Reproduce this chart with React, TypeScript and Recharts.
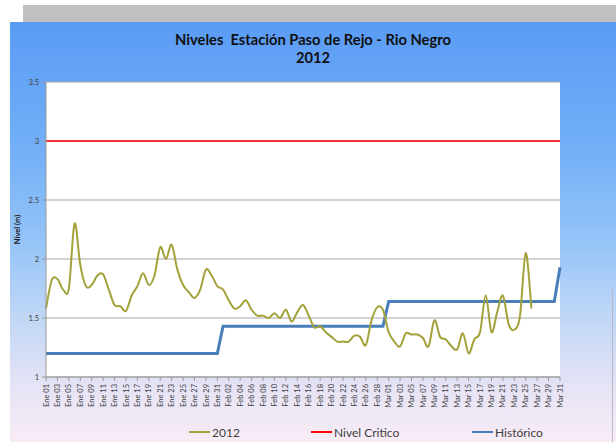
import React from 'react';
import { LineChart, Line, XAxis, YAxis, CartesianGrid, ReferenceLine, Legend } from 'recharts';

const monthNames = ['Ene', 'Feb', 'Mar'];
const monthDays = [31, 29, 31];
const categories: string[] = [];
monthNames.forEach((m, k) => {
  for (let d = 1; d <= monthDays[k]; d++) categories.push(`${m} ${String(d).padStart(2, '0')}`);
});

const yTicks = [1, 1.5, 2, 2.5, 3, 3.5];
const nivelCritico = 3;

const serie2012: (number | null)[] = [
  1.58, 1.82, 1.83, 1.74, 1.75, 2.30, 1.95, 1.77, 1.78, 1.86,
  1.87, 1.74, 1.61, 1.60, 1.56, 1.69, 1.77, 1.88, 1.78, 1.86,
  2.10, 2.00, 2.12, 1.91, 1.78, 1.72, 1.67, 1.74, 1.91, 1.86,
  1.77, 1.74, 1.65, 1.58, 1.60, 1.65, 1.57, 1.52, 1.52, 1.50,
  1.54, 1.50, 1.57, 1.47, 1.55, 1.61, 1.52, 1.42, 1.43, 1.38,
  1.34, 1.30, 1.30, 1.30, 1.35, 1.34, 1.27, 1.48, 1.59, 1.57,
  1.38, 1.30, 1.26, 1.37, 1.36, 1.36, 1.33, 1.26, 1.48, 1.34,
  1.32, 1.26, 1.235, 1.37, 1.20, 1.32, 1.38, 1.69, 1.38, 1.55,
  1.69, 1.45, 1.40, 1.52, 2.05, 1.58, null, null, null, null,
  null,
];

const historico: number[] = [
  1.2, 1.2, 1.2, 1.2, 1.2, 1.2, 1.2, 1.2, 1.2, 1.2,
  1.2, 1.2, 1.2, 1.2, 1.2, 1.2, 1.2, 1.2, 1.2, 1.2,
  1.2, 1.2, 1.2, 1.2, 1.2, 1.2, 1.2, 1.2, 1.2, 1.2,
  1.2,
  1.43, 1.43, 1.43, 1.43, 1.43, 1.43, 1.43, 1.43, 1.43, 1.43,
  1.43, 1.43, 1.43, 1.43, 1.43, 1.43, 1.43, 1.43, 1.43, 1.43,
  1.43, 1.43, 1.43, 1.43, 1.43, 1.43, 1.43, 1.43, 1.43,
  1.64, 1.64, 1.64, 1.64, 1.64, 1.64, 1.64, 1.64, 1.64, 1.64,
  1.64, 1.64, 1.64, 1.64, 1.64, 1.64, 1.64, 1.64, 1.64, 1.64,
  1.64, 1.64, 1.64, 1.64, 1.64, 1.64, 1.64, 1.64, 1.64, 1.64,
  1.93,
];

const data = categories.map((cat, i) => ({ cat, s2012: serie2012[i], hist: historico[i] }));

const OLIVE = '#a3a13a';
const RED = '#ff0000';
const BLUE = '#4a7ebb';
const FONT = 'Lato, "Open Sans", sans-serif';

const legendItems = [
  { name: '2012', color: OLIVE, left: 189 },
  { name: 'Nivel Critico', color: RED, left: 311 },
  { name: 'Histórico', color: BLUE, left: 472 },
];

// Excel-like smoothing (Catmull-Rom / cardinal with tension 0)
const excelSmooth = (context: any) => {
  let pts: [number, number][] = [];
  return {
    areaStart() {},
    areaEnd() {},
    lineStart() { pts = []; },
    point(x: number, y: number) { pts.push([+x, +y]); },
    lineEnd() {
      const n = pts.length;
      if (!n) return;
      context.moveTo(pts[0][0], pts[0][1]);
      const t = 1 / 6;
      for (let i = 0; i < n - 1; i++) {
        const p0 = pts[i - 1] || pts[i];
        const p1 = pts[i];
        const p2 = pts[i + 1];
        const p3 = pts[i + 2] || p2;
        context.bezierCurveTo(
          p1[0] + (p2[0] - p0[0]) * t, p1[1] + (p2[1] - p0[1]) * t,
          p2[0] - (p3[0] - p1[0]) * t, p2[1] - (p3[1] - p1[1]) * t,
          p2[0], p2[1]
        );
      }
    },
  };
};

const XTick = (props: any) => {
  const { x, y, payload } = props;
  const tx = x + 2.6;
  const ty = y + 1;
  return (
    <text x={tx} y={ty} transform={`rotate(-90 ${tx} ${ty})`} textAnchor="end" fontSize={7.5} fill="#404040" fontFamily={FONT}>
      {payload.value}
    </text>
  );
};

const YTick = (props: any) => {
  const { x, y, payload } = props;
  return (
    <text x={x} y={y + 2.5} textAnchor="end" fontSize={7.5} fill="#404040" fontFamily={FONT}>
      {payload.value}
    </text>
  );
};

const LegendContent = () => (
  <div style={{ position: 'relative', width: 616, height: 16, fontFamily: FONT, fontSize: 12, color: '#404040' }}>
    {legendItems.map((it) => (
      <div key={it.name} style={{ position: 'absolute', left: it.left, top: 0, display: 'flex', alignItems: 'center', height: 16 }}>
        <span style={{ display: 'inline-block', width: 21, height: 2, background: it.color, marginRight: 2 }} />
        <span>{it.name}</span>
      </div>
    ))}
  </div>
);

const YLabel = (props: any) => {
  const vb = props.viewBox || { x: 10, y: 82, width: 36, height: 295 };
  const cx = 20;
  const cy = vb.y + vb.height / 2;
  return (
    <text x={cx} y={cy} transform={`rotate(-90 ${cx} ${cy})`} textAnchor="middle" fontSize={7.5} fontWeight="bold" fill="#202020" fontFamily={FONT}>
      Nivel (m)
    </text>
  );
};

export default function App() {
  return (
    <div style={{ position: 'absolute', left: 0, top: 0, width: 616, height: 442, background: '#ffffff', overflow: 'hidden' }}>
      <div style={{ position: 'absolute', left: 23, top: 5, width: 593, height: 17, background: '#c0c0c0' }} />
      <div
        style={{
          position: 'absolute', left: 10, top: 22, width: 606, height: 420,
          background: 'linear-gradient(to bottom, #5a9bf5 0%, #72aff7 30%, #94c4f8 52%, #c4d8f5 72%, #e8e4f5 88%, #f8ecf6 100%)',
        }}
      />
      <div style={{ position: 'absolute', left: 612, top: 290, width: 1, height: 152, background: '#b8b8c8' }} />
      <div style={{ position: 'absolute', left: 0, top: 30, width: 626, textAlign: 'center', fontFamily: FONT, fontWeight: 'bold', fontSize: 14.7, lineHeight: '18px', color: '#101010' }}>
        <div>Niveles&nbsp; Estación Paso de Rejo - Rio Negro</div>
        <div>2012</div>
      </div>
      <div style={{ position: 'absolute', left: 0, top: 0 }}>
        <LineChart width={616} height={442} data={data} margin={{ top: 82, right: 56, bottom: 25, left: 10 }}>
          <CartesianGrid vertical={false} stroke="#a6a6a6" fill="#ffffff" fillOpacity={1} />
          <XAxis
            dataKey="cat"
            interval={1}
            height={40}
            tickSize={4}
            tickMargin={2}
            stroke="#999999"
            tickLine={{ stroke: '#999999' }}
            tick={<XTick />}
          />
          <YAxis
            domain={[1, 3.5]}
            ticks={yTicks}
            width={36}
            tickSize={4}
            tickMargin={3}
            stroke="#999999"
            tick={<YTick />}
            label={<YLabel />}
          />
          <ReferenceLine y={nivelCritico} stroke={RED} strokeWidth={1.5} />
          <Line dataKey="hist" name="Histórico" stroke={BLUE} strokeWidth={3} type="linear" dot={false} activeDot={false} isAnimationActive={false} />
          <Line dataKey="s2012" name="2012" stroke={OLIVE} strokeWidth={2} type={excelSmooth as any} dot={false} activeDot={false} isAnimationActive={false} />
          <Legend verticalAlign="middle" layout="horizontal" content={<LegendContent />} wrapperStyle={{ top: 424, left: 0, width: 616, height: 16 }} />
        </LineChart>
      </div>
    </div>
  );
}
